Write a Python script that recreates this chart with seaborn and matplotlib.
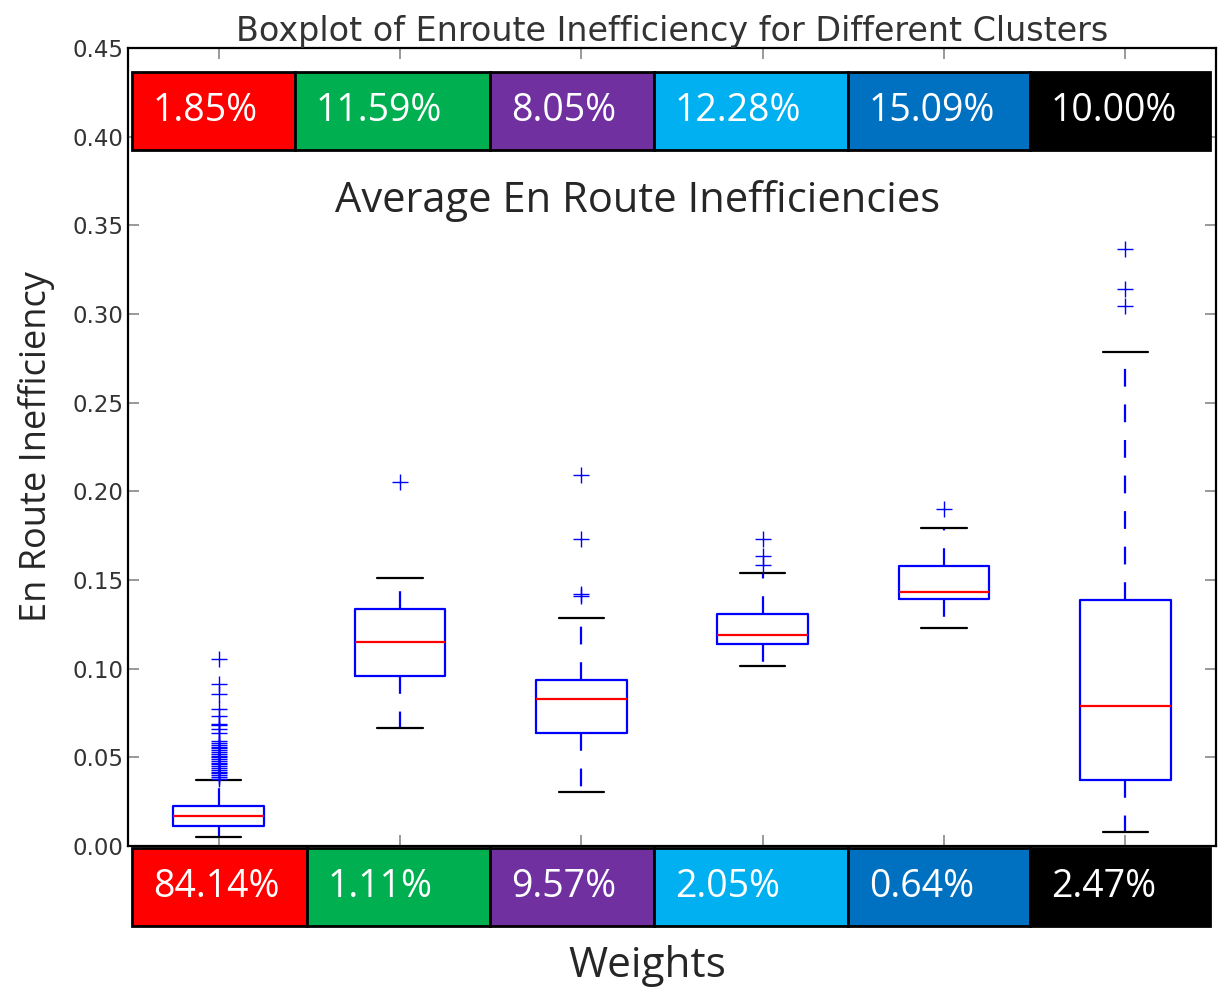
import matplotlib
matplotlib.use("Agg")
import matplotlib.pyplot as plt
import matplotlib.transforms as mtransforms
from matplotlib.patches import Rectangle
import seaborn as sns

# box statistics, one entry per cluster
clusters = [1, 2, 3, 4, 5, 6]
whislo = [0.0050, 0.0665, 0.0303, 0.1017, 0.1231, 0.0079]
q1 = [0.0113, 0.0959, 0.0639, 0.1138, 0.1393, 0.0372]
med = [0.0171, 0.1151, 0.0827, 0.1190, 0.1433, 0.0790]
q3 = [0.0226, 0.1337, 0.0936, 0.1309, 0.1579, 0.1387]
whishi = [0.0372, 0.1512, 0.1284, 0.1541, 0.1795, 0.2788]
fliers_1 = [0.038, 0.039, 0.040, 0.041, 0.042, 0.043, 0.044, 0.045, 0.046, 0.047,
            0.048, 0.049, 0.050, 0.051, 0.052, 0.053, 0.054, 0.055, 0.056, 0.057,
            0.058, 0.059, 0.064, 0.066, 0.068, 0.069, 0.0733, 0.0771, 0.0855,
            0.0911, 0.1054]
fliers_2 = [0.2053]
fliers_3 = [0.1412, 0.1420, 0.1730, 0.2092]
fliers_4 = [0.1583, 0.1636, 0.1730]
fliers_5 = [0.1899]
fliers_6 = [0.3046, 0.3140, 0.3367]

avg_labels = ['1.85%', '11.59%', '8.05%', '12.28%', '15.09%', '10.00%']
weight_labels = ['84.14%', '1.11%', '9.57%', '2.05%', '0.64%', '2.47%']
cluster_colors = ['#FF0000', '#00B050', '#7030A0', '#00B0F0', '#0070C0', '#000000']

# edges of the pasted colour strips (pixel columns of the reference)
top_edges_px = [132, 295, 490, 654, 848, 1030, 1210]
bot_edges_px = [132, 307, 490, 654, 848, 1030, 1210]

sns.set_style("white")
plt.rcParams['font.family'] = ['DejaVu Sans']

fig = plt.figure(figsize=(12.25, 9.88), dpi=100)
ax = fig.add_axes([128 / 1225, 1 - 846 / 988, (1216 - 128) / 1225, (846 - 48) / 988])

all_fliers = [fliers_1, fliers_2, fliers_3, fliers_4, fliers_5, fliers_6]
stats = []
for i in range(len(clusters)):
    stats.append(dict(whislo=whislo[i], q1=q1[i], med=med[i], q3=q3[i],
                      whishi=whishi[i], fliers=all_fliers[i]))

ax.bxp(stats, positions=clusters, widths=0.5,
       boxprops=dict(color='blue', linewidth=1.6),
       whiskerprops=dict(color='blue', linestyle='--', linewidth=1.6, dashes=(8, 8)),
       capprops=dict(color='black', linewidth=1.6),
       medianprops=dict(color='red', linewidth=1.6),
       flierprops=dict(marker='+', markeredgecolor='blue', markersize=11,
                       markeredgewidth=1.0, linestyle='none'))

ax.set_xlim(0.5, 6.5)
ax.set_ylim(0, 0.45)
ax.set_yticks([0.0, 0.05, 0.10, 0.15, 0.20, 0.25, 0.30, 0.35, 0.40, 0.45])
ax.set_yticklabels(['%.2f' % v for v in ax.get_yticks()], fontsize=16.5, color='#333333')
ax.set_xticks(clusters)
ax.set_xticklabels([])
ax.tick_params(axis='both', direction='in', length=8, width=1.2, color='#888888',
               top=True, right=True, left=True, bottom=True)
for sp in ax.spines.values():
    sp.set_color('black')
    sp.set_linewidth(1.6)

ax.set_title('Boxplot of Enroute Inefficiency for Different Clusters',
             fontsize=24, color='#333333', pad=4)
ax.set_ylabel('En Route Inefficiency', fontsize=26, family='Open Sans', labelpad=12)


def px_to_x(px):
    return 0.5 + (px - 128) / ((1216 - 128) / 6)


# top colour strip (inside the axes, data coords)
for i in range(len(avg_labels)):
    x0 = px_to_x(top_edges_px[i])
    x1 = px_to_x(top_edges_px[i + 1])
    ax.add_patch(Rectangle((x0, 0.3925), x1 - x0, 0.044, facecolor=cluster_colors[i],
                           edgecolor='black', linewidth=2, zorder=5))
    ax.text(x0 + 21 / 181.33, 0.4145, avg_labels[i], color='white', fontsize=27,
            family='Open Sans', va='center', ha='left', zorder=6)

# bottom colour strip (below the axes)
trans = mtransforms.blended_transform_factory(ax.transData, ax.transAxes)
for i in range(len(weight_labels)):
    x0 = px_to_x(bot_edges_px[i])
    x1 = px_to_x(bot_edges_px[i + 1])
    ax.add_patch(Rectangle((x0, -0.1003), x1 - x0, 0.0978, transform=trans,
                           facecolor=cluster_colors[i], edgecolor='black',
                           linewidth=2, clip_on=False, zorder=5))
    ax.text(x0 + 21 / 181.33, -0.051, weight_labels[i], transform=trans, color='white',
            fontsize=27, family='Open Sans', va='center', ha='left', zorder=6)

ax.text(0.468, 0.808, 'Average En Route Inefficiencies', transform=ax.transAxes,
        fontsize=30, family='Open Sans', ha='center', va='center')
fig.text(647 / 1225, 1 - 966 / 988, 'Weights', fontsize=30.5, family='Open Sans',
         ha='center', va='center')

fig.savefig('out.png', dpi=100)
